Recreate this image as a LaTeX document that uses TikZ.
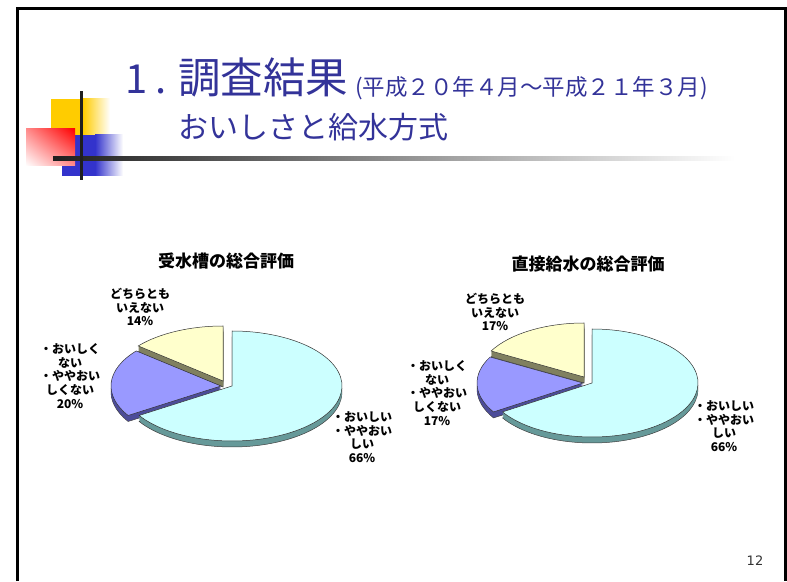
\documentclass[tikz,border=0pt]{standalone}
\usepackage{fontspec}
\usetikzlibrary{shadings}
\newfontfamily\jp{Noto Sans CJK JP}
\setsansfont{DejaVu Sans}

\definecolor{titleblue}{RGB}{51,51,153}
\definecolor{cyantop}{RGB}{204,255,255}
\definecolor{cyanside}{RGB}{102,153,153}
\definecolor{purtop}{RGB}{153,153,255}
\definecolor{purside}{RGB}{76,76,153}
\definecolor{yeltop}{RGB}{255,255,204}
\definecolor{yelside}{RGB}{128,128,96}
\definecolor{decoyel}{RGB}{255,204,0}
\definecolor{decoblue}{RGB}{51,51,204}

% one slice of a 3-d pie: cx, cy, start, end, rx, ry, top colour, side colour
\newcommand{\pieslice}[8]{%
  \fill[#8,draw=black!75,line width=0.5pt] (#1,#2-6) -- ++(#3:#5 and #6)
    arc[start angle=#3,end angle=#4,x radius=#5,y radius=#6] -- cycle;
  \foreach \d in {5,...,1}
    \fill[#8] (#1,#2-\d) -- ++(#3:#5 and #6)
      arc[start angle=#3,end angle=#4,x radius=#5,y radius=#6] -- cycle;
  \filldraw[fill=#7,draw=black!80,line width=0.5pt] (#1,#2) -- ++(#3:#5 and #6)
    arc[start angle=#3,end angle=#4,x radius=#5,y radius=#6] -- cycle;
}

\begin{document}
\begin{tikzpicture}[x=1pt,y=1pt,
    title/.style={text=titleblue,inner sep=0pt,anchor=base west},
    charthead/.style={font=\jp\bfseries\fontsize{17}{18}\selectfont,inner sep=0pt},
    lbl/.style={font=\jp\bfseries\fontsize{12}{13.6}\selectfont,align=center,inner sep=0pt}]

  \useasboundingbox (0,0) rectangle (787,581);

  % slide frame
  \draw[line width=3pt] (17.5,0) -- (17.5,572.5) -- (785.5,572.5) -- (785.5,0);

  % corner decoration
  \fill[decoyel] (51,446) rectangle (83,482);
  \shade[left color=decoyel,right color=white] (83,446) rectangle (110,482);
  \fill[decoblue] (62,405) rectangle (95,446);
  \shade[left color=decoblue,right color=white] (95,405) rectangle (123,446);
  \shade[upper right=red,lower left=white,upper left=red!45!white,
         lower right=red!45!white] (26,415) rectangle (75,452);
  \shade[left color=black!88,right color=white] (53,420) rectangle (735,424);
  \fill[black!88] (80,401) rectangle (83,490);

  % headings
  \node[title,font=\jp\fontsize{40}{40}\selectfont] (num) at (125,487) {1};
  \node[title,font=\jp\fontsize{40}{40}\selectfont] (dot) at (155,487) {.};
  \node[title,font=\jp\fontsize{42.5}{42.5}\selectfont] (head) at (178,487) {調査結果};
  \node[title,font=\jp\fontsize{22.5}{22.5}\selectfont] (period) at (355,485.5)
    {(平成２０年４月～平成２１年３月)};
  \node[title,font=\jp\fontsize{30}{30}\selectfont] (sub) at (178,442.5)
    {おいしさと給水方式};

  % left chart
  \node[charthead] (lhead) at (226,320) {受水槽の総合評価};
  \pieslice{223}{200}{90}{140.4}{110}{55}{yeltop}{yelside}
  \pieslice{221}{195}{140.4}{212.4}{110}{55}{purtop}{purside}
  \pieslice{232}{195}{212.4}{450}{110}{55}{cyantop}{cyanside}
  \node[lbl] (lyel) at (140,274) {どちらとも\\いえない\\14\%};
  \node[lbl] (lpur) at (70,205) {・おいしく\\ない\\・ややおい\\しくない\\20\%};
  \node[lbl] (lcya) at (362,144) {・おいしい\\・ややおい\\しい\\66\%};

  % right chart
  \node[charthead] (rhead) at (588,317) {直接給水の総合評価};
  \pieslice{584}{204}{90}{151.2}{106}{54}{yeltop}{yelside}
  \pieslice{583}{198}{151.2}{212.4}{106}{54}{purtop}{purside}
  \pieslice{592}{198}{212.4}{450}{106}{54}{cyantop}{cyanside}
  \node[lbl] (ryel) at (495,269) {どちらとも\\いえない\\17\%};
  \node[lbl] (rpur) at (437,188) {・おいしく\\ない\\・ややおい\\しくない\\17\%};
  \node[lbl] (rcya) at (724,155) {・おいしい\\・ややおい\\しい\\66\%};

  % page number
  \node[font=\sffamily\fontsize{13}{13}\selectfont,text=black!80,inner sep=0pt]
    (page) at (755,20) {12};
\end{tikzpicture}
\end{document}
